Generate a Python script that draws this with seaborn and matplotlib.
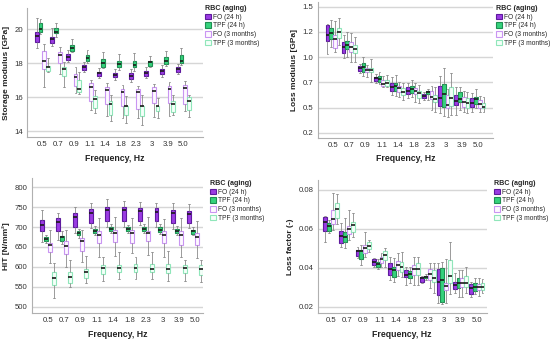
import numpy as np
import pandas as pd
import matplotlib
matplotlib.use("Agg")
import matplotlib.pyplot as plt
import seaborn as sns
from matplotlib.patches import Patch

# ---------------- data ----------------
freqs = ['0.5', '0.7', '0.9', '1.1', '1.4', '1.8', '2.3', '3', '3.9', '5.0']
groups = ['FO (24 h)', 'TPF (24 h)', 'FO (3 months)', 'TPF (3 months)']
# each box: [lower whisker, Q1, median, Q3, upper whisker]

# Storage modulus [GPa]
sm_fo24 = [[18.92, 19.27, 19.6, 19.82, 20.65], [19.02, 19.22, 19.41, 19.53, 20.06],
           [18.1, 18.2, 18.39, 18.53, 18.78], [17.47, 17.6, 17.75, 17.88, 18.08],
           [17.12, 17.27, 17.41, 17.5, 17.7], [17.02, 17.18, 17.3, 17.43, 17.65],
           [16.92, 17.08, 17.22, 17.41, 17.65], [17.12, 17.25, 17.41, 17.53, 17.75],
           [17.18, 17.37, 17.55, 17.67, 17.9], [17.37, 17.5, 17.67, 17.8, 17.96]]
sm_tpf24 = [[19.72, 19.82, 20.0, 20.35, 20.6], [19.57, 19.8, 19.86, 20.1, 20.35],
            [18.65, 18.75, 18.88, 19.08, 19.43], [18.0, 18.14, 18.3, 18.49, 18.78],
            [17.7, 17.8, 18.0, 18.24, 18.65], [17.6, 17.75, 17.94, 18.14, 18.55],
            [17.57, 17.75, 17.9, 18.14, 18.63], [17.75, 17.84, 18.06, 18.14, 18.45],
            [17.84, 17.96, 18.16, 18.39, 18.75], [17.9, 18.04, 18.16, 18.49, 18.92]]
sm_fo3m = [[16.59, 17.65, 18.14, 18.75, 19.14], [17.35, 18.04, 18.49, 18.69, 18.98],
           [16.27, 16.63, 17.18, 17.37, 17.8], [15.25, 15.8, 16.59, 16.82, 17.02],
           [14.86, 15.59, 16.43, 16.57, 16.82], [14.76, 15.49, 16.33, 16.49, 16.73],
           [14.76, 15.31, 16.33, 16.49, 16.67], [14.82, 15.65, 16.39, 16.57, 16.78],
           [14.86, 15.65, 16.47, 16.63, 16.92], [15.16, 15.6, 16.55, 16.73, 16.96]]
sm_tpf3m = [[17.47, 17.55, 17.76, 17.84, 18.29], [16.59, 17.27, 17.65, 17.75, 18.1],
            [16.18, 16.33, 16.47, 17.02, 17.51], [15.06, 15.35, 15.88, 16.04, 16.43],
            [14.57, 14.96, 15.59, 15.75, 16.14], [14.47, 14.96, 15.45, 15.49, 16.04],
            [14.37, 14.9, 15.45, 15.49, 16.14], [14.76, 15.16, 15.45, 15.49, 15.94],
            [14.96, 15.12, 15.59, 15.8, 16.14], [14.82, 15.25, 15.75, 16.0, 16.14]]

# Loss modulus [GPa]
lm_fo24 = [[1.03, 1.163, 1.219, 1.318, 1.328], [0.987, 1.037, 1.103, 1.153, 1.219],
           [0.839, 0.865, 0.888, 0.911, 0.931], [0.739, 0.766, 0.789, 0.806, 0.832],
           [0.624, 0.667, 0.70, 0.746, 0.806], [0.59, 0.63, 0.663, 0.70, 0.739],
           [0.574, 0.597, 0.614, 0.634, 0.657], [0.442, 0.515, 0.597, 0.713, 0.812],
           [0.425, 0.524, 0.567, 0.624, 0.70], [0.458, 0.508, 0.548, 0.59, 0.64]]
lm_tpf24 = [[1.103, 1.176, 1.235, 1.285, 1.368], [1.004, 1.077, 1.12, 1.163, 1.252],
            [0.812, 0.855, 0.905, 0.944, 0.997], [0.733, 0.756, 0.782, 0.812, 0.855],
            [0.614, 0.667, 0.713, 0.746, 0.822], [0.60, 0.647, 0.683, 0.713, 0.772],
            [0.574, 0.634, 0.653, 0.667, 0.68], [0.415, 0.508, 0.63, 0.733, 0.895],
            [0.475, 0.557, 0.581, 0.657, 0.706], [0.491, 0.534, 0.584, 0.607, 0.68]]
lm_fo3m = [[1.054, 1.093, 1.176, 1.219, 1.361], [0.954, 1.054, 1.103, 1.153, 1.242],
           [0.806, 0.855, 0.872, 0.895, 0.921], [0.70, 0.713, 0.733, 0.772, 0.812],
           [0.607, 0.657, 0.69, 0.713, 0.756], [0.557, 0.63, 0.667, 0.696, 0.739],
           [0.475, 0.581, 0.607, 0.667, 0.713], [0.409, 0.50, 0.524, 0.624, 0.68],
           [0.458, 0.508, 0.557, 0.60, 0.667], [0.458, 0.50, 0.534, 0.574, 0.614]]
lm_tpf3m = [[1.12, 1.186, 1.245, 1.292, 1.384], [0.954, 1.044, 1.08, 1.12, 1.196],
            [0.756, 0.855, 0.872, 0.888, 0.977], [0.70, 0.713, 0.739, 0.772, 0.822],
            [0.574, 0.624, 0.657, 0.69, 0.739], [0.541, 0.59, 0.647, 0.667, 0.723],
            [0.458, 0.557, 0.581, 0.624, 0.70], [0.425, 0.515, 0.591, 0.70, 0.845],
            [0.442, 0.491, 0.548, 0.59, 0.657], [0.458, 0.491, 0.508, 0.548, 0.607]]

# HIT [N/mm²]
hit_fo24 = [[663, 689, 705, 718, 743], [668, 689, 712, 722, 736], [684, 701, 726, 735, 750],
            [697, 711, 735, 745, 760], [701, 716, 743, 750, 770], [701, 716, 743, 750, 766],
            [705, 716, 740, 747, 764], [700, 714, 737, 747, 760], [694, 710, 735, 743, 760],
            [697, 710, 733, 741, 757]]
hit_tpf24 = [[661, 665, 669, 674, 680], [658, 665, 674, 678, 689], [672, 679, 684, 689, 695],
             [679, 684, 690, 694, 703], [684, 690, 695, 700, 708], [684, 690, 695, 700, 705],
             [684, 690, 695, 700, 708], [683, 687, 693, 700, 707], [679, 684, 690, 695, 703],
             [679, 682, 689, 693, 700]]
hit_fo3m = [[609, 638, 655, 659, 693], [599, 632, 653, 665, 693], [613, 641, 665, 672, 693],
            [624, 659, 680, 689, 722], [627, 663, 686, 693, 725], [634, 661, 684, 693, 722],
            [630, 665, 684, 690, 724], [624, 659, 679, 689, 720], [624, 655, 679, 689, 722],
            [622, 655, 676, 684, 716]]
hit_tpf3m = [[521, 555, 571, 588, 609], [549, 560, 574, 588, 616], [559, 571, 586, 595, 627],
             [565, 582, 596, 605, 624], [569, 586, 596, 605, 638], [569, 586, 596, 607, 624],
             [569, 586, 595, 607, 638], [565, 584, 595, 607, 640], [565, 584, 596, 605, 617],
             [563, 580, 594, 605, 617]]

# Loss factor (-)
lf_fo24 = [[0.0534, 0.0591, 0.0637, 0.0663, 0.0666], [0.0509, 0.0526, 0.0563, 0.0591, 0.0632],
           [0.0449, 0.0461, 0.0486, 0.0491, 0.0509], [0.0406, 0.0414, 0.0431, 0.0443, 0.0449],
           [0.0337, 0.0363, 0.0392, 0.0426, 0.0454], [0.0311, 0.0351, 0.0363, 0.0389, 0.0406],
           [0.0323, 0.0329, 0.0346, 0.0351, 0.0358], [0.0221, 0.026, 0.0329, 0.0392, 0.0423],
           [0.0269, 0.0289, 0.0311, 0.0329, 0.0371], [0.0251, 0.0265, 0.0294, 0.0317, 0.0329]]
lf_tpf24 = [[0.0577, 0.0591, 0.0615, 0.0629, 0.0646], [0.05, 0.0534, 0.056, 0.0586, 0.0654],
            [0.0414, 0.0443, 0.0488, 0.0491, 0.0517], [0.0392, 0.0402, 0.0419, 0.0431, 0.0443],
            [0.0329, 0.0354, 0.0389, 0.0402, 0.0449], [0.0323, 0.0346, 0.0368, 0.0383, 0.0406],
            [0.0337, 0.0346, 0.0354, 0.0358, 0.0368], [0.0214, 0.0226, 0.0337, 0.0397, 0.0431],
            [0.0248, 0.0294, 0.032, 0.0346, 0.0389], [0.0265, 0.0282, 0.0299, 0.0323, 0.0346]]
lf_fo3m = [[0.0594, 0.0625, 0.0649, 0.0697, 0.0783], [0.0543, 0.0574, 0.0598, 0.0615, 0.0697],
           [0.0454, 0.0474, 0.05, 0.0517, 0.0586], [0.0406, 0.0423, 0.0443, 0.0454, 0.0474],
           [0.0358, 0.0389, 0.0414, 0.0437, 0.0474], [0.0311, 0.0363, 0.0392, 0.0414, 0.0454],
           [0.0294, 0.0337, 0.0368, 0.0392, 0.0423], [0.0217, 0.0286, 0.0306, 0.032, 0.0443],
           [0.0248, 0.0303, 0.0323, 0.0346, 0.0389], [0.0257, 0.0286, 0.0303, 0.0317, 0.0346]]
lf_tpf3m = [[0.0625, 0.0654, 0.07, 0.0735, 0.0779], [0.056, 0.0586, 0.062, 0.0637, 0.0683],
            [0.0483, 0.0495, 0.0512, 0.0534, 0.0543], [0.0406, 0.044, 0.0466, 0.0486, 0.05],
            [0.0354, 0.038, 0.0402, 0.0431, 0.0483], [0.0311, 0.0363, 0.0392, 0.0423, 0.0454],
            [0.0272, 0.0329, 0.0346, 0.0389, 0.0426], [0.0265, 0.0323, 0.0358, 0.044, 0.0534],
            [0.0269, 0.0303, 0.032, 0.0358, 0.0402], [0.0272, 0.0286, 0.0303, 0.0323, 0.034]]

# ---------------- style ----------------
FILL = {'FO (24 h)': '#9B3BE3', 'TPF (24 h)': '#35D27C',
        'FO (3 months)': '#FDF8FF', 'TPF (3 months)': '#F4FFF9'}
EDGE = {'FO (24 h)': '#5E1A9E', 'TPF (24 h)': '#1F8F52',
        'FO (3 months)': '#C995F2', 'TPF (3 months)': '#90E6BA'}

sns.set_theme(style="white")
plt.rcParams['font.family'] = ['Liberation Sans', 'DejaVu Sans']


def make_df(stats_lists):
    rows = []
    for g, stats in zip(groups, stats_lists):
        for f, box in zip(freqs, stats):
            for v in box:
                rows.append((f, g, v))
    return pd.DataFrame(rows, columns=['freq', 'group', 'value'])


fig = plt.figure(figsize=(5.5, 3.39), dpi=100)
W, H = 550.0, 339.0


def add_panel(px_left, px_right, px_top, px_bottom, stats, ylabel, yticks, yticklabels,
              ylim, xlim, leg_xy):
    ax = fig.add_axes([px_left / W, 1 - px_bottom / H,
                       (px_right - px_left) / W, (px_bottom - px_top) / H])
    df = make_df(stats)
    sns.boxplot(data=df, x='freq', y='value', hue='group', order=freqs, hue_order=groups,
                palette=FILL, saturation=1, width=0.96, gap=0, whis=(0, 100),
                linewidth=0.8, legend=False, showfliers=False,
                whiskerprops=dict(color='#8a8a8a', linewidth=0.6),
                capprops=dict(color='#8a8a8a', linewidth=0.6),
                medianprops=dict(color='#1a1a1a', linewidth=1.2), ax=ax)
    fill_rgb = {g: np.array(matplotlib.colors.to_rgb(c)) for g, c in FILL.items()}
    for p in ax.patches:
        fc = np.array(p.get_facecolor()[:3])
        g = min(fill_rgb, key=lambda k: np.abs(fill_rgb[k] - fc).sum())
        p.set_edgecolor(EDGE[g])
    ax.set_ylim(*ylim)
    ax.set_xlim(*xlim)
    ax.set_yticks(yticks)
    ax.set_yticklabels(yticklabels)
    ax.yaxis.grid(True, color='#d6d6d6', linewidth=1.0)
    ax.set_axisbelow(True)
    for s in ['top', 'right']:
        ax.spines[s].set_visible(False)
    for s in ['left', 'bottom']:
        ax.spines[s].set_color('#b0b0b0')
        ax.spines[s].set_linewidth(0.8)
    ax.tick_params(axis='both', length=0, labelsize=5.6, colors='#333333', pad=3)
    ax.set_xlabel('Frequency, Hz', fontsize=6.3, fontweight='bold', color='#222222', labelpad=4)
    ax.set_ylabel(ylabel, fontsize=6.0, fontweight='bold', color='#222222', labelpad=3)
    handles = [Patch(facecolor=FILL[g], edgecolor=EDGE[g], linewidth=0.8) for g in groups]
    fig.legend(handles, groups, title='RBC (aging)', loc='upper left',
               bbox_to_anchor=(leg_xy[0] / W, 1 - leg_xy[1] / H), bbox_transform=fig.transFigure,
               frameon=False, fontsize=4.8, title_fontproperties={'weight': 'bold', 'size': 5.1},
               handlelength=0.9, handleheight=0.9, handletextpad=0.3, labelspacing=0.25,
               borderaxespad=0, borderpad=0, alignment='left')
    return ax


add_panel(27, 203, 8, 137, [sm_fo24, sm_tpf24, sm_fo3m, sm_tpf3m], 'Storage modulus [GPa]',
          [14, 16, 18, 20], ['14', '16', '18', '20'], (13.646, 21.26), (-0.98, 10.26), (205, 5))
add_panel(317.7, 493.3, 2, 137.7, [lm_fo24, lm_tpf24, lm_fo3m, lm_tpf3m], 'Loss modulus [GPa]',
          [0.25, 0.5, 0.75, 1.0, 1.25, 1.5], ['0.2', '0.5', '0.7', '1.0', '1.2', '1.5'],
          (0.2004, 1.547), (-0.97, 9.97), (496, 5))
add_panel(31.7, 203.3, 178, 313.3, [hit_fo24, hit_tpf24, hit_fo3m, hit_tpf3m], 'HIT [N/mm²]',
          [500, 550, 600, 650, 700, 750, 800], ['500', '550', '600', '650', '700', '750', '800'],
          (483.4, 823), (-0.98, 9.5), (210, 180))
add_panel(317.7, 486.7, 180, 313.3, [lf_fo24, lf_tpf24, lf_fo3m, lf_tpf3m], 'Loss factor (-)',
          [0.02, 0.04, 0.06, 0.08], ['0.02', '0.04', '0.06', '0.08'],
          (0.0166, 0.0851), (-0.82, 9.62), (494, 180))

fig.savefig('out.png', dpi=100)
